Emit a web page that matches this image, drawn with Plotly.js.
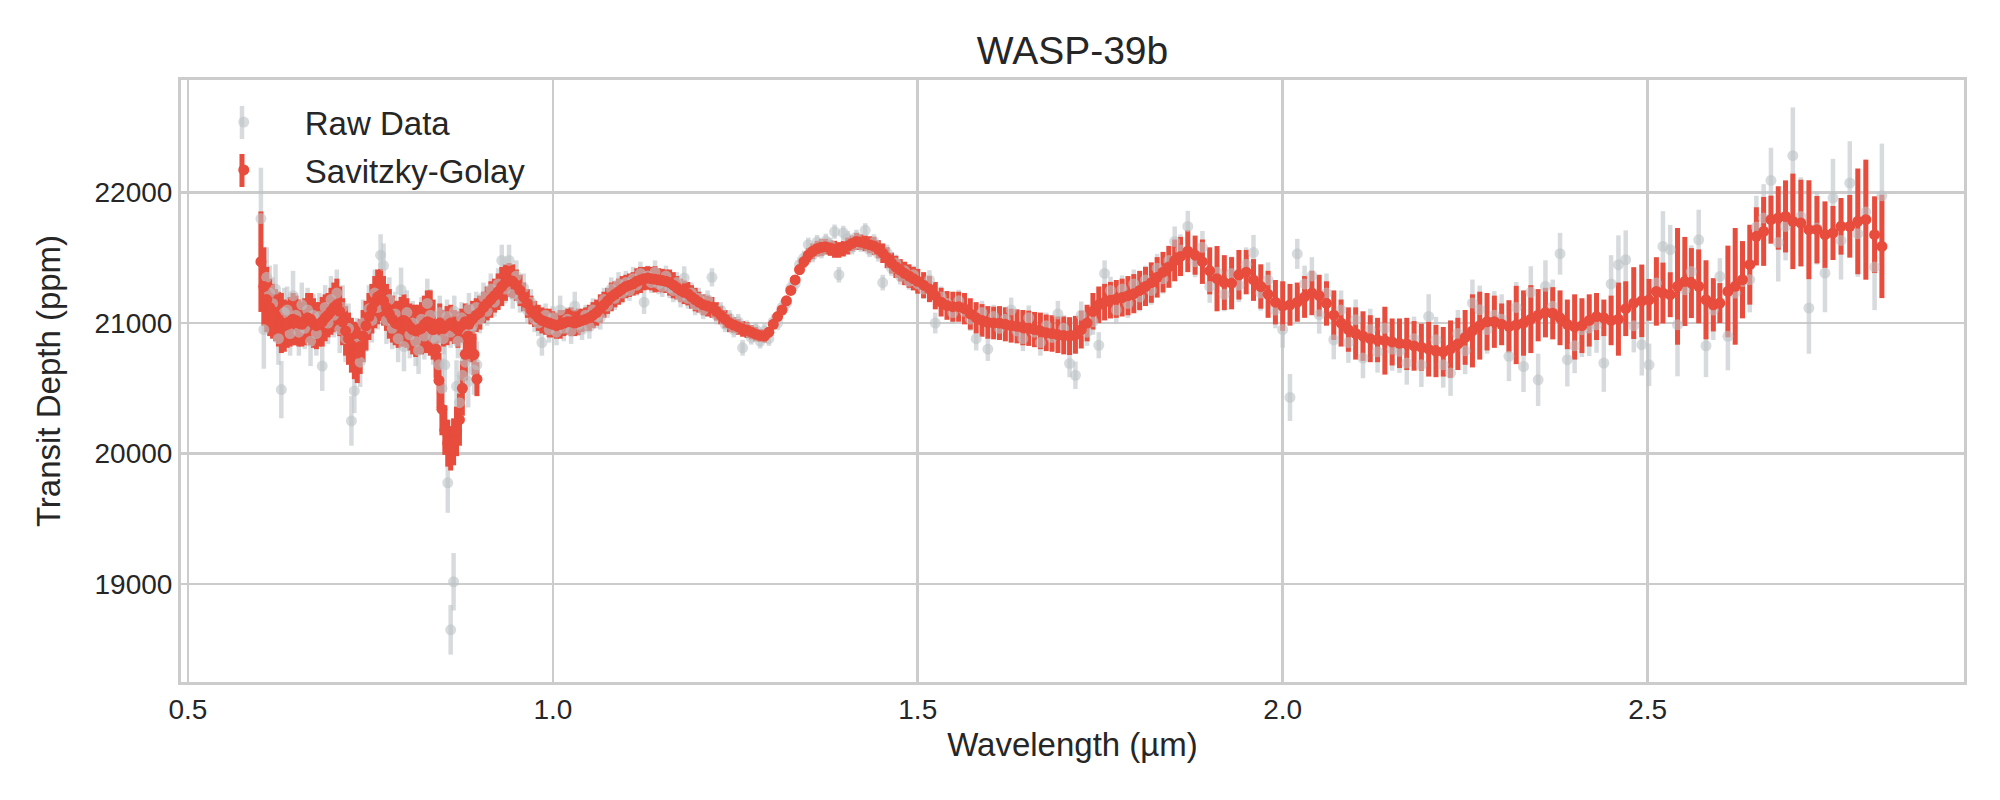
<!DOCTYPE html>
<html><head><meta charset="utf-8">
<script src="https://cdn.plot.ly/plotly-3.0.1.min.js"></script>
<style>html,body{margin:0;padding:0;background:#fff}#chart{width:2000px;height:800px}</style>
</head><body><div id="chart"></div>
<script>
// Wavelength (µm)
const wavelength = [
0.6,0.604,0.608,0.612,0.616,0.62,0.624,0.628,0.632,0.636,
0.64,0.644,0.648,0.652,0.656,0.66,0.664,0.668,0.672,0.676,
0.68,0.684,0.688,0.692,0.696,0.7,0.704,0.708,0.712,0.716,
0.72,0.724,0.728,0.732,0.736,0.74,0.744,0.748,0.752,0.756,
0.76,0.764,0.768,0.772,0.776,0.78,0.784,0.788,0.792,0.796,
0.8,0.804,0.808,0.812,0.816,0.82,0.824,0.828,0.832,0.836,
0.84,0.844,0.848,0.852,0.856,0.86,0.864,0.868,0.872,0.876,
0.88,0.884,0.888,0.892,0.896,
0.845,0.85,0.855,0.86,0.865,0.87,0.875,0.88,0.885,0.89,
0.895,0.9,0.905,0.91,0.915,0.92,0.925,0.93,0.935,0.94,
0.945,0.95,0.955,0.96,0.965,0.97,0.975,0.98,0.985,0.99,
0.995,1.0,1.005,1.01,1.015,1.02,1.025,1.03,1.035,1.04,
1.045,1.05,1.055,1.06,1.065,1.07,1.075,1.08,1.085,1.09,
1.095,1.1,1.105,1.11,1.115,1.12,1.125,1.13,1.135,1.14,
1.145,1.15,1.155,1.16,1.165,1.17,1.175,1.18,1.185,1.19,
1.195,1.2,
1.206,1.212,1.218,1.224,1.23,1.236,1.242,1.248,1.254,1.26,
1.266,1.272,1.278,1.284,1.29,1.296,1.302,1.308,1.314,1.32,
1.326,1.332,1.338,1.344,1.35,1.356,1.362,1.368,1.374,1.38,
1.386,1.392,1.398,1.404,1.41,1.416,1.422,1.428,1.434,1.44,
1.446,1.452,1.458,1.464,1.47,1.476,1.482,1.488,1.494,1.5,
1.508,1.516,1.524,1.532,1.54,1.548,1.556,1.564,1.572,1.58,
1.588,1.596,1.604,1.612,1.62,1.628,1.636,1.644,1.652,1.66,
1.668,1.676,1.684,1.692,1.7,1.708,1.716,1.724,1.732,1.74,
1.748,1.756,1.764,1.772,1.78,1.788,1.796,1.804,1.812,1.82,
1.828,1.836,1.844,1.852,
1.86,1.87,1.88,1.89,1.9,1.91,1.92,1.93,1.94,1.95,
1.96,1.97,1.98,1.99,2.0,2.01,2.02,2.03,2.04,2.05,
2.06,2.07,2.08,2.09,2.1,2.11,2.12,2.13,2.14,2.15,
2.16,2.17,2.18,2.19,2.2,2.21,2.22,2.23,2.24,2.25,
2.26,2.27,2.28,2.29,2.3,2.31,2.32,2.33,2.34,2.35,
2.36,2.37,2.38,2.39,2.4,2.41,2.42,2.43,2.44,2.45,
2.46,2.47,
2.481,2.492,2.502,2.512,2.521,2.531,2.541,2.551,2.56,2.57,
2.58,2.59,2.599,2.61,2.62,2.63,2.64,2.649,2.659,2.669,
2.679,2.689,2.699,2.71,2.721,2.732,2.743,2.754,2.765,2.777,
2.788,2.799,2.811,2.821
];

// Raw transit depth (ppm)
const rawDepth = [
21800,20950,21350,21230,21150,21260,20880,20490,21080,21100,
20920,21210,21060,20930,21140,20960,21100,20860,21060,20920,
21050,20670,21120,21000,21180,21060,21230,20950,21120,20880,
20960,20250,20480,20840,20700,21000,20950,21110,21020,21230,
21120,21520,21440,21020,21180,20960,21070,20880,21255,20820,
21080,20910,21000,20860,20790,21030,20900,21150,21060,20890,
20870,20680,20500,20680,19776,18650,19018,20515,20390,20600,
20700,20553,20950,20640,20680,
21080,20880,21050,20930,21090,20860,21040,20950,21110,20980,
21120,21030,21200,21090,21260,21160,21300,21480,21260,21480,
21220,21360,21190,21270,21100,21160,21030,21000,20850,21060,
20950,21040,20930,21100,20960,21030,20940,21130,20990,20950,
21060,20970,21100,21050,21040,21180,21130,21260,21190,21300,
21230,21310,21250,21340,21290,21380,21160,21360,21310,21390,
21300,21280,21360,21270,21250,21310,21200,21345,21190,21230,
21140,21190,
21100,21180,21350,21060,21100,20990,21040,20950,21010,20810,
20960,20890,20950,20860,20940,20880,21010,21000,21120,21150,
21270,21300,21450,21500,21600,21520,21620,21550,21630,21600,
21700,21370,21690,21650,21580,21660,21600,21710,21560,21620,
21530,21310,21540,21420,21460,21360,21400,21320,21370,21300,
21260,21330,21000,21200,21150,21080,21170,21090,21030,20880,
21080,20800,21050,20960,21030,21100,20940,20880,21040,20930,
20850,20980,20890,21070,20960,20690,20600,21060,20930,21010,
20830,21380,21250,21100,21260,21150,21300,21200,21330,21250,
21420,21340,21480,21625,
21560,21740,21470,21580,21280,21390,21220,21380,21290,21450,
21540,21230,21330,21100,20950,20430,21530,21300,21360,21064,
21230,20872,21100,20850,21026,20732,20950,20780,20960,20800,
20783,20693,20880,20680,21051,20872,20680,20617,20920,20788,
21153,21102,20950,21060,21030,20745,21120,20667,21235,20565,
21281,21128,21531,20719,20826,20949,20962,20987,20693,21300,
21447,21485,
20979,20834,20680,21306,21587,21562,20987,21255,21395,21638,
20826,21100,21357,20898,21230,21319,21332,21735,21804,22093,
21618,21740,22282,21817,21115,21728,21383,21958,21633,22073,
21684,21850,21429,21975
];

// Raw uncertainty (ppm)
const rawError = [
390,300,230,210,200,190,200,220,190,180,
170,190,170,180,170,160,170,190,160,170,
180,190,170,160,180,170,180,180,170,180,
190,190,170,200,190,180,170,180,170,180,
170,160,170,180,170,160,170,180,170,190,
170,180,170,190,180,170,180,190,200,210,
220,230,230,210,230,190,220,200,210,200,
190,200,180,190,180,
130,120,130,120,120,130,120,110,120,110,
120,110,110,110,120,110,120,120,110,120,
110,120,110,110,100,100,100,100,100,90,
100,90,100,110,100,90,100,110,90,80,
80,90,90,90,90,90,90,90,90,90,
80,90,80,90,80,90,90,80,80,90,
80,80,80,80,90,80,80,90,80,80,
80,80,
70,70,70,70,60,60,60,60,60,60,
60,55,55,55,55,55,55,55,55,55,
55,55,55,55,55,55,55,55,55,55,
55,60,55,55,55,55,55,55,55,60,
60,60,60,60,65,65,65,65,70,70,
75,75,80,80,80,85,85,85,90,90,
90,90,90,90,95,95,95,95,95,95,
100,100,100,100,100,105,105,105,105,100,
100,100,105,105,105,110,110,110,110,110,
110,115,115,115,
120,120,120,125,125,125,130,130,130,130,
135,135,135,140,140,180,115,140,145,145,
150,150,150,155,155,155,160,160,160,165,
165,165,170,170,170,175,175,175,180,180,
180,185,185,185,190,190,195,195,200,200,
200,205,160,205,210,210,215,215,220,220,
225,225,
204,236,163,200,270,190,395,280,200,230,
240,230,140,260,300,240,250,240,260,250,
300,260,370,300,350,280,300,300,300,320,
330,350,330,400
];

// Savitzky-Golay smoothed depth (ppm)
const sgDepth = [
21470,21280,21180,21120,21090,21060,21030,21000,20980,20990,
21010,21030,21020,21000,20990,21010,21040,21030,21000,20980,
20990,21010,21040,21060,21090,21120,21140,21090,21010,20940,
20880,20830,20790,20770,20820,20900,20980,21050,21110,21160,
21200,21215,21170,21120,21070,21030,21000,20990,21010,21020,
21000,20970,20950,20940,20950,20960,20990,21010,21000,20950,
20800,20560,20340,20180,20080,20040,20090,20170,20260,20500,
20760,20900,20880,20760,20570,
21000,20960,20980,21000,20970,20950,20980,21010,20990,21030,
21060,21080,21120,21150,21180,21210,21240,21280,21310,21330,
21320,21290,21250,21200,21150,21100,21070,21040,21020,21010,
21000,20990,20980,20990,21000,21010,21010,21000,21010,21020,
21030,21040,21060,21080,21110,21140,21170,21200,21220,21240,
21260,21280,21290,21300,21320,21330,21340,21345,21340,21335,
21330,21325,21320,21310,21290,21270,21250,21235,21225,21200,
21180,21160,
21140,21130,21120,21090,21060,21030,21000,20985,20970,20955,
20945,20930,20915,20905,20900,20930,20990,21050,21100,21170,
21250,21330,21410,21470,21520,21550,21570,21580,21585,21575,
21565,21560,21570,21590,21610,21625,21620,21610,21600,21590,
21565,21535,21500,21460,21430,21405,21380,21360,21340,21320,
21290,21260,21210,21160,21135,21125,21125,21110,21070,21040,
21020,21005,21000,21000,20990,20980,20975,20965,20960,20950,
20940,20925,20920,20910,20905,20900,20910,20950,21000,21090,
21140,21160,21175,21185,21195,21210,21225,21250,21280,21310,
21350,21390,21430,21480,
21510,21550,21520,21470,21400,21340,21310,21305,21370,21390,
21330,21280,21220,21160,21130,21140,21160,21200,21230,21210,
21150,21060,21000,20950,20920,20900,20880,20870,20865,20855,
20845,20840,20825,20815,20800,20785,20780,20800,20840,20890,
20940,20980,21010,21010,20990,20975,20985,21000,21030,21060,
21080,21075,21040,20990,20970,20980,21020,21050,21040,21020,
21030,21110,
21153,21170,21178,21242,21230,21217,21281,21319,21306,21281,
21178,21140,21153,21242,21281,21332,21447,21664,21702,21792,
21805,21817,21779,21766,21715,21715,21677,21690,21741,21741,
21779,21792,21677,21587
];

// Savitzky-Golay uncertainty (ppm)
const sgError = [
385,300,250,220,210,200,210,230,200,180,
190,200,190,180,170,180,190,200,190,180,
170,190,180,170,180,190,200,190,180,190,
200,210,220,230,210,200,190,180,190,200,
210,200,190,180,190,180,170,180,190,200,
190,180,190,200,190,200,220,240,250,230,
220,210,200,190,180,170,180,190,200,210,
200,190,180,160,130,
150,140,150,140,130,140,130,140,150,140,
130,130,120,130,140,130,140,150,140,130,
130,120,120,110,110,110,100,100,100,100,
110,100,100,110,100,100,110,100,100,90,
90,100,100,100,110,100,100,110,100,100,
100,90,90,90,100,100,90,90,90,100,
90,90,90,100,100,90,90,90,90,90,
90,80,
80,80,80,70,70,70,70,60,60,60,
60,55,55,50,50,40,35,30,30,30,
30,35,40,45,55,60,60,65,60,60,
65,60,60,65,60,65,60,60,65,70,
70,75,80,80,85,85,90,90,90,95,
100,100,105,110,110,115,115,120,120,120,
125,125,125,130,130,130,130,135,135,135,
140,140,140,140,145,145,145,145,140,140,
140,140,140,145,145,150,150,150,150,155,
155,155,160,160,
150,160,150,170,180,250,210,200,190,170,
160,170,180,170,190,160,150,160,170,160,
170,190,180,170,200,190,180,170,260,180,
190,200,190,180,210,200,190,220,200,210,
280,260,220,200,160,200,300,250,260,200,
190,200,210,190,250,210,200,180,140,190,
280,210,
275,278,160,262,233,172,447,341,268,283,
303,204,153,351,447,296,306,223,264,184,
243,276,366,332,379,258,255,207,217,240,
405,460,294,396
];

const xTickVals = [0.5, 1.0, 1.5, 2.0, 2.5];
const xTickText = ['0.5', '1.0', '1.5', '2.0', '2.5'];
const yTickVals = [19000, 20000, 21000, 22000];
const yTickText = ['19000', '20000', '21000', '22000'];

[rawDepth, rawError, sgDepth, sgError].forEach(function (a) {
  if (a.length !== wavelength.length) throw new Error('length mismatch ' + a.length + ' vs ' + wavelength.length);
});

const FONT = '"Liberation Sans", Arial, Helvetica, sans-serif';
const TXT = '#262626';
const GREY = 'rgba(189,195,199,0.6)';
const RED = '#e74c3c';
const CLEAR = 'rgba(0,0,0,0)';
const MSIZE = 11;

const traces = [
  { x: wavelength, y: rawDepth, type: 'scatter', mode: 'markers',
    marker: { color: CLEAR, size: MSIZE },
    error_y: { type: 'data', array: rawError, visible: true, color: GREY, thickness: 4.5, width: 0 },
    showlegend: false, hoverinfo: 'skip' },
  { x: wavelength, y: sgDepth, type: 'scatter', mode: 'markers',
    marker: { color: CLEAR, size: MSIZE },
    error_y: { type: 'data', array: sgError, visible: true, color: RED, thickness: 5, width: 0 },
    showlegend: false, hoverinfo: 'skip' },
  { x: wavelength, y: rawDepth, type: 'scatter', mode: 'markers', name: 'Raw Data',
    legendgroup: 'raw', marker: { color: GREY, size: MSIZE } },
  { x: wavelength, y: sgDepth, type: 'scatter', mode: 'markers', name: 'Savitzky-Golay',
    legendgroup: 'sg', marker: { color: RED, size: MSIZE } }
];

const axisCommon = {
  showgrid: true, gridcolor: '#cccccc', gridwidth: 2.6,
  showline: true, linecolor: '#cccccc', linewidth: 3, mirror: true,
  zeroline: false, ticks: '',
  tickfont: { family: FONT, size: 28, color: TXT }
};

const layout = {
  width: 2000, height: 800,
  paper_bgcolor: '#ffffff', plot_bgcolor: '#ffffff',
  margin: { l: 181, r: 36, t: 80, b: 118 },
  font: { family: FONT, color: TXT },
  title: { text: 'WASP-39b', font: { family: FONT, size: 39, color: TXT },
           x: 0.5, xref: 'paper', xanchor: 'center', y: 0.9375, yref: 'container', yanchor: 'middle' },
  xaxis: Object.assign({}, axisCommon, {
    range: [0.4905, 2.9335], tickvals: xTickVals, ticktext: xTickText,
    title: { text: 'Wavelength (µm)', font: { family: FONT, size: 33, color: TXT }, standoff: 10 }
  }),
  yaxis: Object.assign({}, axisCommon, {
    range: [18250, 22862], tickvals: yTickVals, ticktext: yTickText,
    title: { text: 'Transit Depth (ppm)', font: { family: FONT, size: 33, color: TXT }, standoff: 24 }
  }),
  showlegend: true,
  legend: { x: 0.001, y: 0.9766, xanchor: 'left', yanchor: 'top', bgcolor: CLEAR, borderwidth: 0,
            font: { family: FONT, size: 33, color: TXT }, itemwidth: 112, tracegroupgap: 2 },
  // legend key error-bar strokes (decoration behind the legend markers)
  shapes: [
    { type: 'line', xref: 'paper', yref: 'paper', x0: 0.0342, x1: 0.0342, y0: 0.902, y1: 0.9568,
      line: { color: GREY, width: 4.5 }, layer: 'above' },
    { type: 'line', xref: 'paper', yref: 'paper', x0: 0.0342, x1: 0.0342, y0: 0.8223, y1: 0.8771,
      line: { color: RED, width: 5 }, layer: 'above' }
  ]
};

Plotly.newPlot('chart', traces, layout, { displayModeBar: false, staticPlot: true });
</script>
</body></html>
